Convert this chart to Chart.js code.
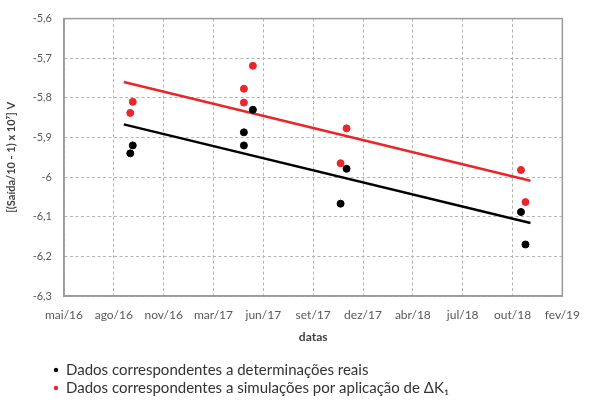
<!DOCTYPE html>
<html>
<head>
<meta charset="utf-8">
<script src="https://cdn.jsdelivr.net/npm/chart.js@4.4.1/dist/chart.umd.min.js"></script>
<style>
  html, body { margin: 0; padding: 0; background: #ffffff; }
  #wrap { width: 592px; height: 402px; }
</style>
</head>
<body>
<div id="wrap"><canvas id="chart" width="592" height="402"></canvas></div>
<script>
// axis starts at this date, one major unit = 100 days
var axisStart = '2016-05-07';
var xTickLabels = ['mai/16', 'ago/16', 'nov/16', 'mar/17', 'jun/17', 'set/17',
                   'dez/17', 'abr/18', 'jul/18', 'out/18', 'fev/19'];

// measurement dates
var pointDates = ['2016-09-17', '2016-09-22',
                  '2017-05-03', '2017-05-03', '2017-05-21',
                  '2017-11-13', '2017-11-25',
                  '2018-11-10', '2018-11-19'];
var realValues = [-5.940, -5.920,
                  -5.887, -5.920, -5.830,
                  -6.067, -5.979,
                  -6.088, -6.170];
var simValues  = [-5.838, -5.810,
                  -5.777, -5.812, -5.719,
                  -5.965, -5.877,
                  -5.982, -6.063];

// linear trendlines (end points)
var trendDates = ['2016-09-04', '2018-11-29'];
var realTrend  = [-5.867, -6.116];
var simTrend   = [-5.760, -6.009];

var legendLabels = ['Dados correspondentes a determinações reais',
                    'Dados correspondentes a simulações por aplicação de ΔK\u2081'];

var RED = '#e8262b';
var BLACK = '#000000';

function dayNum(s) {
    var p = s.split('-'), q = axisStart.split('-');
    return (Date.UTC(+p[0], p[1] - 1, +p[2]) - Date.UTC(+q[0], q[1] - 1, +q[2])) / 86400000;
}

function toPoints(dates, values) {
    return dates.map(function (d, i) { return {x: dayNum(d), y: values[i]}; });
}

// frame round the plot area
var framePlugin = {
    id: 'frame',
    afterDatasetsDraw: function (chart) {
        var a = chart.chartArea, ctx = chart.ctx;
        ctx.save();
        ctx.strokeStyle = '#9a9a9a';
        ctx.lineWidth = 1.5;
        ctx.strokeRect(a.left, a.top, a.right - a.left, a.bottom - a.top);
        ctx.restore();
    }
};

// legend written as a bulleted list under the chart
var bulletLegend = {
    id: 'bulletLegend',
    afterDraw: function (chart) {
        var ctx = chart.ctx;
        ctx.save();
        ctx.font = '15px Lato';
        ctx.textBaseline = 'middle';
        var rows = [370, 388];
        chart.data.datasets.forEach(function (ds) {
            if (ds.legendRow === undefined) return;
            var y = rows[ds.legendRow];
            ctx.fillStyle = ds.backgroundColor;
            ctx.beginPath();
            ctx.arc(56, y, 2.2, 0, Math.PI * 2);
            ctx.fill();
            ctx.fillStyle = '#333333';
            ctx.fillText(ds.label, 66, y);
        });
        ctx.restore();
    }
};

new Chart(document.getElementById('chart').getContext('2d'), {
    type: 'scatter',
    data: {
        datasets: [
            {
                label: legendLabels[0],
                legendRow: 0,
                data: toPoints(pointDates, realValues),
                backgroundColor: BLACK,
                borderColor: BLACK,
                pointRadius: 3.5,
                order: 0
            },
            {
                label: legendLabels[1],
                legendRow: 1,
                data: toPoints(pointDates, simValues),
                backgroundColor: RED,
                borderColor: RED,
                pointRadius: 3.5,
                order: 0
            },
            {
                label: 'trend real',
                data: toPoints(trendDates, realTrend),
                showLine: true,
                borderColor: BLACK,
                borderWidth: 2.5,
                pointRadius: 0,
                order: 1
            },
            {
                label: 'trend sim',
                data: toPoints(trendDates, simTrend),
                showLine: true,
                borderColor: RED,
                borderWidth: 2.5,
                pointRadius: 0,
                order: 1
            }
        ]
    },
    options: {
        responsive: false,
        animation: false,
        layout: { padding: { left: 0, right: 20, top: 16, bottom: 56 } },
        plugins: {
            legend: { display: false },
            tooltip: { enabled: false }
        },
        scales: {
            x: {
                type: 'linear',
                min: 0,
                max: 1000,
                afterFit: function (scale) { scale.height = 50; },
                grid: { color: '#b4b4b4', lineWidth: 1, drawTicks: false },
                border: { color: '#9a9a9a', width: 1.5, dash: [3, 2.5] },
                ticks: {
                    stepSize: 100,
                    padding: 12,
                    color: '#595959',
                    font: { family: 'Lato', size: 12 },
                    maxRotation: 0,
                    autoSkip: false,
                    callback: function (v, i) { return xTickLabels[i]; }
                },
                title: {
                    display: true,
                    text: 'datas',
                    color: '#404040',
                    font: { family: 'Lato', size: 12, weight: 'bold' },
                    padding: { top: 0, bottom: 2 }
                }
            },
            y: {
                min: -6.3,
                max: -5.6,
                afterFit: function (scale) { scale.width = 64; },
                grid: { color: '#b4b4b4', lineWidth: 1, drawTicks: false },
                border: { color: '#9a9a9a', width: 1.5, dash: [3, 2.5] },
                ticks: {
                    stepSize: 0.1,
                    padding: 12,
                    color: '#595959',
                    font: { family: 'Lato', size: 11 },
                    callback: function (v) {
                        return String(Math.round(v * 10) / 10).replace('.', ',');
                    }
                },
                title: {
                    display: true,
                    text: '[(Saída/10 - 1) x 10\u2077] V',
                    color: '#404040',
                    font: { family: 'Lato', size: 11, weight: 'bold' },
                    padding: { top: 5, bottom: 0 }
                }
            }
        }
    },
    plugins: [framePlugin, bulletLegend]
});
</script>
</body>
</html>
